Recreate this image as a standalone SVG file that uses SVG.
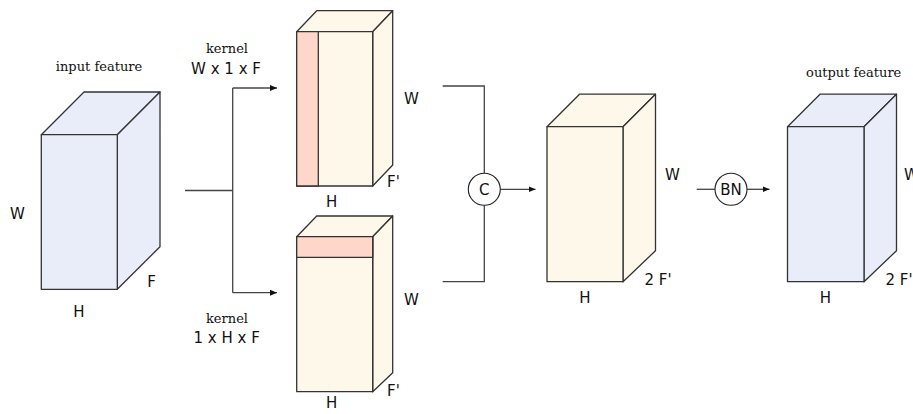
<svg xmlns="http://www.w3.org/2000/svg" width="913" height="414" viewBox="0 0 913 414">
<style>
.edge{stroke:#333;stroke-width:1.3;stroke-linejoin:round}
.blue{fill:#E9EDF9}
.cream{fill:#FEF8EA}
.red{fill:#FFD7CA}
.sans{font-family:"DejaVu Sans",Verdana,sans-serif;font-size:15px;fill:#111}
.serif{font-family:"DejaVu Serif","Liberation Serif",serif;font-size:13px;fill:#111}
.conn{fill:none;stroke:#444;stroke-width:1.3}
.op{fill:#fff;stroke:#222;stroke-width:1.1}
</style>
<defs>
<marker id="arr" viewBox="0 0 8 8" refX="7" refY="4" markerWidth="8" markerHeight="8" markerUnits="userSpaceOnUse" orient="auto">
<path d="M0,1 L7,4 L0,7 z" fill="#111"/>
</marker>
</defs>

<g id="input-feature">
<polygon class="edge blue" points="41.3,134.7 84,92 160,92 117.3,134.7"/>
<polygon class="edge blue" points="117.3,134.7 160,92 160,246.7 117.3,289.3"/>
<rect class="edge blue" x="41.3" y="134.7" width="76" height="154.6"/>
<text class="serif" x="99" y="71" text-anchor="middle">input feature</text>
<text class="sans" x="17.5" y="219" text-anchor="middle">W</text>
<text class="sans" x="79" y="317" text-anchor="middle">H</text>
<text class="sans" x="151.5" y="287" text-anchor="middle">F</text>
</g>

<g id="conv-w">
<polygon class="edge cream" points="296.7,31.7 316.7,10.7 392.7,10.7 372.7,31.7"/>
<polygon class="edge cream" points="372.7,31.7 392.7,10.7 392.7,165 372.7,186"/>
<rect class="edge cream" x="296.7" y="31.7" width="76" height="154.3"/>
<rect class="edge red" x="296.7" y="31.7" width="21.6" height="154.3"/>
<text class="sans" x="411.5" y="104" text-anchor="middle">W</text>
<text class="sans" x="387" y="187">F'</text>
<text class="sans" x="331.7" y="207" text-anchor="middle">H</text>
</g>

<g id="conv-h">
<polygon class="edge cream" points="296.7,236.7 316.7,216 392.7,216 372.7,236.7"/>
<polygon class="edge cream" points="372.7,236.7 392.7,216 392.7,372.7 372.7,391.7"/>
<rect class="edge cream" x="296.7" y="236.7" width="76" height="155"/>
<rect class="edge red" x="296.7" y="236.7" width="76" height="20.6"/>
<text class="sans" x="411.5" y="305" text-anchor="middle">W</text>
<text class="sans" x="387" y="396">F'</text>
<text class="sans" x="331.7" y="408" text-anchor="middle">H</text>
</g>

<g id="kernel-labels">
<text class="serif" x="227" y="53" text-anchor="middle">kernel</text>
<text class="sans" x="226" y="73.5" text-anchor="middle">W x 1 x F</text>
<text class="serif" x="227" y="323" text-anchor="middle">kernel</text>
<text class="sans" x="226.7" y="342.5" text-anchor="middle">1 x H x F</text>
</g>

<g id="concat-feature">
<polygon class="edge cream" points="547,126.7 579.5,94.2 655.5,94.2 623,126.7"/>
<polygon class="edge cream" points="623,126.7 655.5,94.2 655.5,250.7 623,281.7"/>
<rect class="edge cream" x="547" y="126.7" width="76" height="155"/>
<text class="sans" x="672.5" y="180" text-anchor="middle">W</text>
<text class="sans" x="644.5" y="285">2 F'</text>
<text class="sans" x="585" y="303" text-anchor="middle">H</text>
</g>

<g id="output-feature">
<polygon class="edge blue" points="787.5,126.7 820,94.2 896.5,94.2 864,126.7"/>
<polygon class="edge blue" points="864,126.7 896.5,94.2 896.5,250.7 864,281.7"/>
<rect class="edge blue" x="787.5" y="126.7" width="76.5" height="155"/>
<text class="serif" x="853.7" y="77" text-anchor="middle">output feature</text>
<text class="sans" x="904" y="180">W</text>
<text class="sans" x="885.5" y="285">2 F'</text>
<text class="sans" x="825.5" y="303" text-anchor="middle">H</text>
</g>

<g id="connectors">
<path class="conn" d="M185,190.5 H232.7"/>
<path class="conn" d="M232.7,88 V292.7"/>
<path class="conn" d="M232.7,88 H277" marker-end="url(#arr)"/>
<path class="conn" d="M232.7,292.7 H277" marker-end="url(#arr)"/>
<path class="conn" d="M442.7,86 H484.3 V173.3"/>
<path class="conn" d="M442.7,281.7 H484.3 V205.3"/>
<path class="conn" d="M500.3,189.3 H535.5" marker-end="url(#arr)"/>
<path class="conn" d="M696.7,189.3 H715"/>
<path class="conn" d="M747,189.3 H769.5" marker-end="url(#arr)"/>
</g>

<g id="concat-op">
<circle class="op" cx="484.3" cy="189.3" r="16"/>
<text class="sans" x="484.3" y="194.5" text-anchor="middle">C</text>
</g>

<g id="bn-op">
<circle class="op" cx="731" cy="189.3" r="16"/>
<text class="sans" x="731" y="194.5" text-anchor="middle">BN</text>
</g>
</svg>
